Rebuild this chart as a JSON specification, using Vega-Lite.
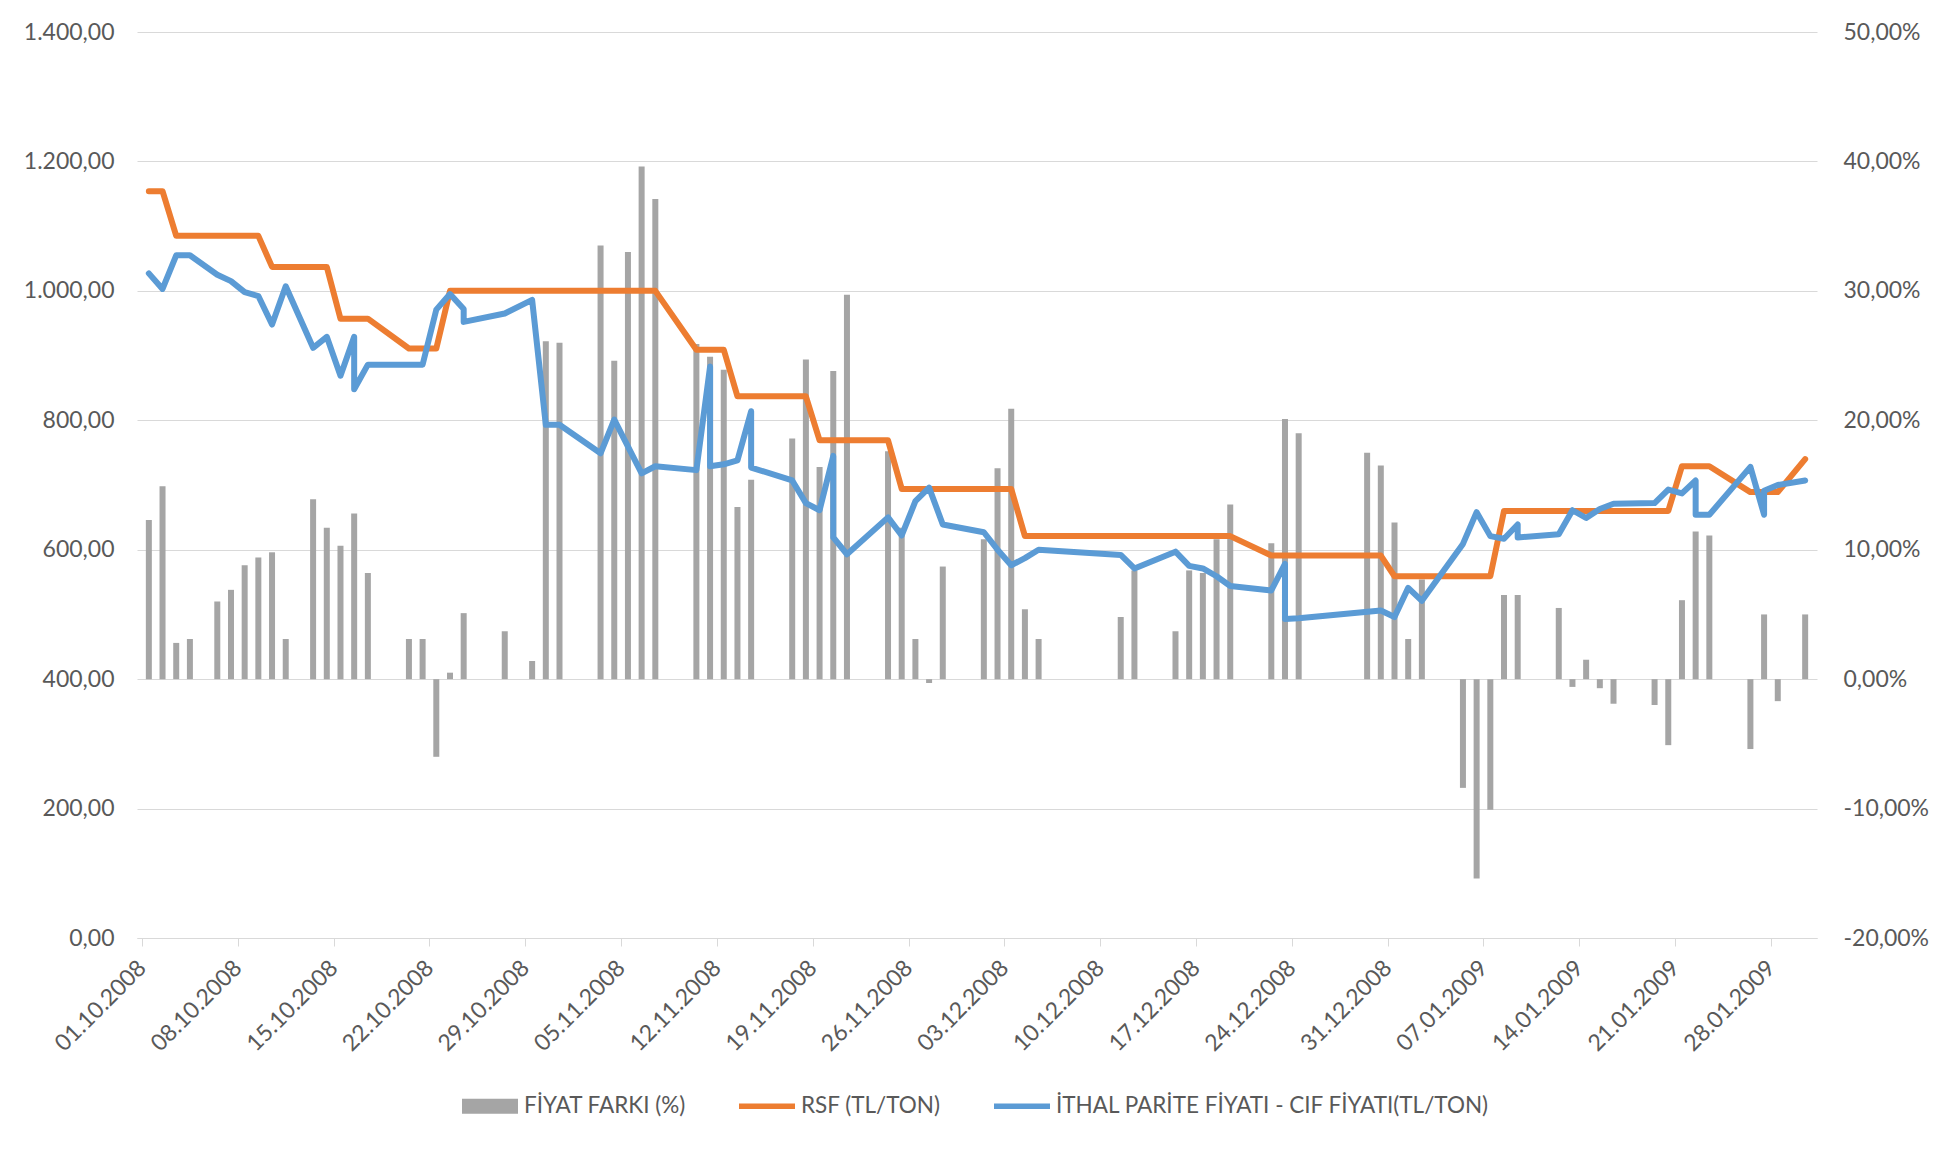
{
  "$schema": "https://vega.github.io/schema/vega-lite/v6.json",
  "width": 1680,
  "height": 906,
  "autosize": {"type": "none"},
  "padding": {"left": 137, "top": 32, "right": 130, "bottom": 211},
  "background": "white",
  "config": {
    "locale": {"number": {"decimal": ",", "thousands": ".", "grouping": [3], "currency": ["", " TL"], "minus": "-"}},
    "view": {"stroke": null},
    "font": "Lato",
    "axis": {
      "labelFont": "Lato",
      "labelColor": "#595959",
      "labelFontSize": 23,
      "gridColor": "#D9D9D9",
      "domainColor": "#D9D9D9",
      "tickColor": "#D9D9D9"
    }
  },
  "data": {
    "values": [
      {"i": 1, "date": "2008-10-01T12:00:00Z", "pct": 0.123, "rsf": 1154, "cif": 1027},
      {"i": 2, "date": "2008-10-02T12:00:00Z", "pct": 0.149, "rsf": 1154, "cif": 1003},
      {"i": 3, "date": "2008-10-03T12:00:00Z", "pct": 0.028, "rsf": 1085, "cif": 1055},
      {"i": 4, "date": "2008-10-04T12:00:00Z", "pct": 0.031, "rsf": 1085, "cif": 1055},
      {"i": 5, "date": "2008-10-06T12:00:00Z", "pct": 0.060, "rsf": 1085, "cif": 1025},
      {"i": 6, "date": "2008-10-07T12:00:00Z", "pct": 0.069, "rsf": 1085, "cif": 1015},
      {"i": 7, "date": "2008-10-08T12:00:00Z", "pct": 0.088, "rsf": 1085, "cif": 998},
      {"i": 8, "date": "2008-10-09T12:00:00Z", "pct": 0.094, "rsf": 1085, "cif": 992},
      {"i": 9, "date": "2008-10-10T12:00:00Z", "pct": 0.098, "rsf": 1037, "cif": 948},
      {"i": 10, "date": "2008-10-11T12:00:00Z", "pct": 0.031, "rsf": 1037, "cif": 1007},
      {"i": 11, "date": "2008-10-13T12:00:00Z", "pct": 0.139, "rsf": 1037, "cif": 912},
      {"i": 12, "date": "2008-10-14T12:00:00Z", "pct": 0.117, "rsf": 1037, "cif": 929},
      {"i": 13, "date": "2008-10-15T12:00:00Z", "pct": 0.103, "rsf": 957, "cif": 869},
      {"i": 14, "date": "2008-10-16T12:00:00Z", "pct": 0.128, "rsf": 957, "cif": 929},
      {"i": 15, "date": "2008-10-16T12:00:00Z", "rsf": 957, "cif": 848},
      {"i": 16, "date": "2008-10-17T12:00:00Z", "pct": 0.082, "rsf": 957, "cif": 886},
      {"i": 17, "date": "2008-10-20T12:00:00Z", "pct": 0.031, "rsf": 911, "cif": 886},
      {"i": 18, "date": "2008-10-21T12:00:00Z", "pct": 0.031, "rsf": 911, "cif": 886},
      {"i": 19, "date": "2008-10-22T12:00:00Z", "pct": -0.060, "rsf": 911, "cif": 971},
      {"i": 20, "date": "2008-10-23T12:00:00Z", "pct": 0.005, "rsf": 1000, "cif": 995},
      {"i": 21, "date": "2008-10-24T12:00:00Z", "pct": 0.051, "rsf": 1000, "cif": 972},
      {"i": 22, "date": "2008-10-24T12:00:00Z", "rsf": 1000, "cif": 952},
      {"i": 23, "date": "2008-10-27T12:00:00Z", "pct": 0.037, "rsf": 1000, "cif": 965},
      {"i": 24, "date": "2008-10-29T12:00:00Z", "pct": 0.014, "rsf": 1000, "cif": 986},
      {"i": 25, "date": "2008-10-30T12:00:00Z", "pct": 0.261, "rsf": 1000, "cif": 793},
      {"i": 26, "date": "2008-10-31T12:00:00Z", "pct": 0.260, "rsf": 1000, "cif": 793},
      {"i": 27, "date": "2008-11-03T12:00:00Z", "pct": 0.335, "rsf": 1000, "cif": 749},
      {"i": 28, "date": "2008-11-04T12:00:00Z", "pct": 0.246, "rsf": 1000, "cif": 801},
      {"i": 29, "date": "2008-11-05T12:00:00Z", "pct": 0.330, "rsf": 1000},
      {"i": 30, "date": "2008-11-06T12:00:00Z", "pct": 0.396, "rsf": 1000, "cif": 718},
      {"i": 31, "date": "2008-11-07T12:00:00Z", "pct": 0.371, "rsf": 1000, "cif": 729},
      {"i": 32, "date": "2008-11-10T12:00:00Z", "pct": 0.259, "rsf": 909, "cif": 723},
      {"i": 33, "date": "2008-11-11T12:00:00Z", "pct": 0.249, "rsf": 909, "cif": 883},
      {"i": 34, "date": "2008-11-11T12:00:00Z", "rsf": 909, "cif": 729},
      {"i": 35, "date": "2008-11-12T12:00:00Z", "pct": 0.239, "rsf": 909, "cif": 732},
      {"i": 36, "date": "2008-11-13T12:00:00Z", "pct": 0.133, "rsf": 837, "cif": 738},
      {"i": 37, "date": "2008-11-14T12:00:00Z", "pct": 0.154, "rsf": 837, "cif": 814},
      {"i": 38, "date": "2008-11-14T12:00:00Z", "rsf": 837, "cif": 727},
      {"i": 39, "date": "2008-11-17T12:00:00Z", "pct": 0.186, "rsf": 837, "cif": 707},
      {"i": 40, "date": "2008-11-18T12:00:00Z", "pct": 0.247, "rsf": 837, "cif": 672},
      {"i": 41, "date": "2008-11-19T12:00:00Z", "pct": 0.164, "rsf": 769, "cif": 661},
      {"i": 42, "date": "2008-11-20T12:00:00Z", "pct": 0.238, "rsf": 769, "cif": 745},
      {"i": 43, "date": "2008-11-20T12:00:00Z", "rsf": 769, "cif": 619},
      {"i": 44, "date": "2008-11-21T12:00:00Z", "pct": 0.297, "rsf": 769, "cif": 593},
      {"i": 45, "date": "2008-11-24T12:00:00Z", "pct": 0.176, "rsf": 769, "cif": 650},
      {"i": 46, "date": "2008-11-25T12:00:00Z", "pct": 0.117, "rsf": 694, "cif": 622},
      {"i": 47, "date": "2008-11-26T12:00:00Z", "pct": 0.031, "rsf": 694, "cif": 675},
      {"i": 48, "date": "2008-11-27T12:00:00Z", "pct": -0.003, "rsf": 694, "cif": 696},
      {"i": 49, "date": "2008-11-28T12:00:00Z", "pct": 0.087, "rsf": 694, "cif": 639},
      {"i": 50, "date": "2008-12-01T12:00:00Z", "pct": 0.108, "rsf": 694, "cif": 627},
      {"i": 51, "date": "2008-12-02T12:00:00Z", "pct": 0.163, "rsf": 694, "cif": 600},
      {"i": 52, "date": "2008-12-03T12:00:00Z", "pct": 0.209, "rsf": 694, "cif": 576},
      {"i": 53, "date": "2008-12-04T12:00:00Z", "pct": 0.054, "rsf": 621, "cif": 587},
      {"i": 54, "date": "2008-12-05T12:00:00Z", "pct": 0.031, "rsf": 621, "cif": 600},
      {"i": 55, "date": "2008-12-11T12:00:00Z", "pct": 0.048, "rsf": 621, "cif": 592},
      {"i": 56, "date": "2008-12-12T12:00:00Z", "pct": 0.084, "rsf": 621, "cif": 571},
      {"i": 57, "date": "2008-12-15T12:00:00Z", "pct": 0.037, "rsf": 621, "cif": 597},
      {"i": 58, "date": "2008-12-16T12:00:00Z", "pct": 0.084, "rsf": 621, "cif": 575},
      {"i": 59, "date": "2008-12-17T12:00:00Z", "pct": 0.082, "rsf": 621, "cif": 571},
      {"i": 60, "date": "2008-12-18T12:00:00Z", "pct": 0.108, "rsf": 621, "cif": 559},
      {"i": 61, "date": "2008-12-19T12:00:00Z", "pct": 0.135, "rsf": 621, "cif": 544},
      {"i": 62, "date": "2008-12-22T12:00:00Z", "pct": 0.105, "rsf": 591, "cif": 537},
      {"i": 63, "date": "2008-12-23T12:00:00Z", "pct": 0.201, "rsf": 591, "cif": 578},
      {"i": 64, "date": "2008-12-23T12:00:00Z", "rsf": 591, "cif": 493},
      {"i": 65, "date": "2008-12-24T12:00:00Z", "pct": 0.190, "rsf": 591, "cif": 494},
      {"i": 66, "date": "2008-12-29T12:00:00Z", "pct": 0.175, "rsf": 591},
      {"i": 67, "date": "2008-12-30T12:00:00Z", "pct": 0.165, "rsf": 591, "cif": 506},
      {"i": 68, "date": "2008-12-31T12:00:00Z", "pct": 0.121, "rsf": 559, "cif": 496},
      {"i": 69, "date": "2009-01-01T12:00:00Z", "pct": 0.031, "rsf": 559, "cif": 541},
      {"i": 70, "date": "2009-01-02T12:00:00Z", "pct": 0.077, "rsf": 559, "cif": 521},
      {"i": 71, "date": "2009-01-05T12:00:00Z", "pct": -0.084, "rsf": 559, "cif": 609},
      {"i": 72, "date": "2009-01-06T12:00:00Z", "pct": -0.154, "rsf": 559, "cif": 658},
      {"i": 73, "date": "2009-01-07T12:00:00Z", "pct": -0.101, "rsf": 559, "cif": 621},
      {"i": 74, "date": "2009-01-08T12:00:00Z", "pct": 0.065, "rsf": 660, "cif": 617},
      {"i": 75, "date": "2009-01-09T12:00:00Z", "pct": 0.065, "rsf": 660, "cif": 639},
      {"i": 76, "date": "2009-01-09T12:00:00Z", "rsf": 660, "cif": 619},
      {"i": 77, "date": "2009-01-12T12:00:00Z", "pct": 0.055, "rsf": 660, "cif": 624},
      {"i": 78, "date": "2009-01-13T12:00:00Z", "pct": -0.006, "rsf": 660, "cif": 661},
      {"i": 79, "date": "2009-01-14T12:00:00Z", "pct": 0.015, "rsf": 660, "cif": 649},
      {"i": 80, "date": "2009-01-15T12:00:00Z", "pct": -0.007, "rsf": 660, "cif": 663},
      {"i": 81, "date": "2009-01-16T12:00:00Z", "pct": -0.019, "rsf": 660, "cif": 671},
      {"i": 82, "date": "2009-01-19T12:00:00Z", "pct": -0.020, "rsf": 660, "cif": 672},
      {"i": 83, "date": "2009-01-20T12:00:00Z", "pct": -0.051, "rsf": 660, "cif": 693},
      {"i": 84, "date": "2009-01-21T12:00:00Z", "pct": 0.061, "rsf": 729, "cif": 687},
      {"i": 85, "date": "2009-01-22T12:00:00Z", "pct": 0.114, "rsf": 729, "cif": 707},
      {"i": 86, "date": "2009-01-22T12:00:00Z", "rsf": 729, "cif": 654},
      {"i": 87, "date": "2009-01-23T12:00:00Z", "pct": 0.111, "rsf": 729, "cif": 654},
      {"i": 88, "date": "2009-01-26T12:00:00Z", "pct": -0.054, "rsf": 689, "cif": 728},
      {"i": 89, "date": "2009-01-27T12:00:00Z", "pct": 0.050, "rsf": 689, "cif": 654},
      {"i": 90, "date": "2009-01-27T12:00:00Z", "rsf": 689, "cif": 691},
      {"i": 91, "date": "2009-01-28T12:00:00Z", "pct": -0.017, "rsf": 689, "cif": 700},
      {"i": 92, "date": "2009-01-30T12:00:00Z", "pct": 0.050, "rsf": 740, "cif": 707}
    ]
  },
  "encoding": {
    "x": {
      "field": "date",
      "type": "temporal",
      "scale": {
        "type": "utc",
        "nice": false,
        "domain": [1222819200000, 1233360000000]
      },
      "axis": {
        "title": null,
        "format": "%d.%m.%Y",
        "labelAngle": -45,
        "labelAlign": "right",
        "labelBaseline": "middle",
        "labelPadding": 18,
        "tickSize": 8,
        "grid": false,
        "labelOverlap": false,
        "values": [
          1222819200000, 1223424000000, 1224028800000, 1224633600000, 1225238400000,
          1225843200000, 1226448000000, 1227052800000, 1227657600000, 1228262400000,
          1228867200000, 1229472000000, 1230076800000, 1230681600000, 1231286400000,
          1231891200000, 1232496000000, 1233100800000
        ]
      }
    }
  },
  "layer": [
    {
      "transform": [{"filter": "isValid(datum.pct)"}],
      "mark": {"type": "bar", "size": 6},
      "encoding": {
        "y": {
          "field": "pct",
          "type": "quantitative",
          "scale": {"domain": [-0.2, 0.5], "nice": false},
          "axis": {
            "title": null,
            "orient": "right",
            "format": ".2%",
            "values": [-0.2, -0.1, 0, 0.1, 0.2, 0.3, 0.4, 0.5],
            "grid": false,
            "domain": false,
            "ticks": false,
            "labelPadding": 26
          }
        },
        "color": {
          "datum": "FİYAT FARKI (%)",
          "type": "nominal",
          "scale": {
            "domain": ["FİYAT FARKI (%)", "RSF (TL/TON)", "İTHAL PARİTE FİYATI - CIF FİYATI(TL/TON)"],
            "range": ["#A5A5A5", "#ED7D31", "#5B9BD5"]
          },
          "legend": {
            "title": null,
            "orient": "none",
            "legendX": 325,
            "legendY": 1046,
            "direction": "horizontal",
            "symbolSize": 3136,
            "symbolType": "M-1,-0.27H1V0.27H-1Z",
            "symbolStrokeWidth": 0,
            "columnPadding": 53,
            "labelOffset": 6,
            "labelFont": "Lato",
            "labelFontSize": 22.5,
            "labelColor": "#595959",
            "labelLimit": 0,
            "encode": {
              "symbols": {
                "update": {
                  "shape": {"signal": "datum.value === 'FİYAT FARKI (%)' ? 'M-1,-0.27H1V0.27H-1Z' : 'M-1,-0.1H1V0.1H-1Z'"},
                  "fill": {"scale": "color", "field": "value"},
                  "stroke": {"value": "transparent"},
                  "opacity": {"value": 1}
                }
              }
            }
          }
        }
      }
    },
    {
      "mark": {"type": "line", "strokeWidth": 6, "strokeJoin": "round", "strokeCap": "round"},
      "encoding": {
        "y": {
          "field": "rsf",
          "type": "quantitative",
          "scale": {"domain": [0, 1400], "nice": false},
          "axis": {
            "title": null,
            "orient": "left",
            "format": ",.2f",
            "values": [0, 200, 400, 600, 800, 1000, 1200, 1400],
            "grid": true,
            "domain": false,
            "ticks": false,
            "labelPadding": 23
          }
        },
        "order": {"field": "i", "type": "quantitative"},
        "color": {"datum": "RSF (TL/TON)", "type": "nominal"}
      }
    },
    {
      "transform": [{"filter": "isValid(datum.cif)"}],
      "mark": {"type": "line", "strokeWidth": 6, "strokeJoin": "round", "strokeCap": "round"},
      "encoding": {
        "y": {
          "field": "cif",
          "type": "quantitative",
          "scale": {"domain": [0, 1400], "nice": false},
          "axis": null
        },
        "order": {"field": "i", "type": "quantitative"},
        "color": {"datum": "İTHAL PARİTE FİYATI - CIF FİYATI(TL/TON)", "type": "nominal"}
      }
    }
  ],
  "resolve": {"scale": {"y": "independent"}}
}
